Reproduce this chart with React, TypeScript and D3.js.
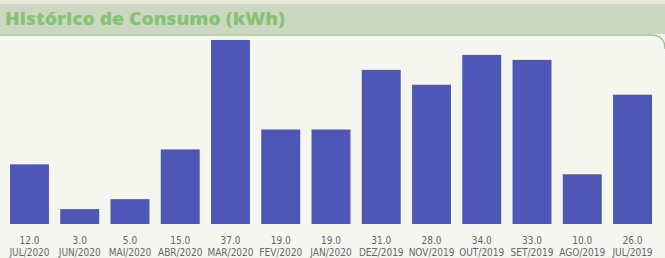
import * as d3 from "d3";
import {useEffect, useRef} from "react";

const WIDTH = 665;
const HEIGHT = 258;

const months = ["JUL/2020", "JUN/2020", "MAI/2020", "ABR/2020", "MAR/2020", "FEV/2020", "JAN/2020",
    "DEZ/2019", "NOV/2019", "OUT/2019", "SET/2019", "AGO/2019", "JUL/2019"];
const consumo = [12, 3, 5, 15, 37, 19, 19, 31, 28, 34, 33, 10, 26];

const App = () => {
    const ref = useRef<SVGSVGElement>(null);

    useEffect(() => {
        const svg = d3.select(ref.current);
        svg.selectAll("*").remove();

        // scanned paper background
        svg.append("rect").attr("width", WIDTH).attr("height", HEIGHT).attr("fill", "#f3f3ec");

        // header band
        svg.append("rect").attr("x", 0).attr("y", 0).attr("width", WIDTH).attr("height", 4).attr("fill", "#e6e7d9");
        svg.append("path")
            .attr("d", `M0,4 H${WIDTH} V34 H0 Z`)
            .attr("fill", "#cbd7c0");
        // white panel with rounded top right corner
        svg.append("path")
            .attr("d", `M0,35 H${WIDTH - 14} Q${WIDTH},35 ${WIDTH},49 V${HEIGHT} H0 Z`)
            .attr("fill", "#f6f6f1");
        svg.append("path")
            .attr("d", `M0,35 H${WIDTH - 14} Q${WIDTH},35 ${WIDTH},49`)
            .attr("fill", "none")
            .attr("stroke", "#9cc48a")
            .attr("stroke-width", 1.5);

        svg.append("text")
            .attr("x", 5)
            .attr("y", 25)
            .attr("font-family", "Open Sans, sans-serif")
            .attr("font-weight", 800)
            .attr("font-size", 17)
            .attr("textLength", 280)
            .attr("lengthAdjust", "spacingAndGlyphs")
            .attr("fill", "#86c273")
            .text("Histórico de Consumo (kWh)");

        const x = d3.scaleBand<string>()
            .domain(months)
            .range([4.35, 657.65])
            .paddingInner(0.225)
            .paddingOuter(0.1125);

        const y = d3.scaleLinear()
            .domain([0, 37])
            .range([224, 40]);

        const data = months.map((m, i) => ({m, v: consumo[i]}));

        svg.append("g")
            .selectAll("rect")
            .data(data)
            .join("rect")
            .attr("x", d => x(d.m)!)
            .attr("y", d => y(d.v))
            .attr("width", x.bandwidth())
            .attr("height", d => y(0) - y(d.v))
            .attr("fill", "#4f57b6");

        const labels = svg.append("g")
            .attr("font-family", "DejaVu Sans Condensed, sans-serif")
            .attr("font-size", 10)
            .attr("fill", "#666")
            .attr("text-anchor", "middle");

        labels.selectAll(".val")
            .data(data)
            .join("text")
            .attr("class", "val")
            .attr("x", d => x(d.m)! + x.bandwidth() / 2)
            .attr("y", 244)
            .text(d => d3.format(".1f")(d.v));

        labels.selectAll(".mes")
            .data(data)
            .join("text")
            .attr("class", "mes")
            .attr("x", d => x(d.m)! + x.bandwidth() / 2)
            .attr("y", 256)
            .text(d => d.m);
    }, []);

    return (
        <svg ref={ref} width={WIDTH} height={HEIGHT}
             style={{position: "absolute", left: 0, top: 0, display: "block"}}/>
    );
};

export default App;
